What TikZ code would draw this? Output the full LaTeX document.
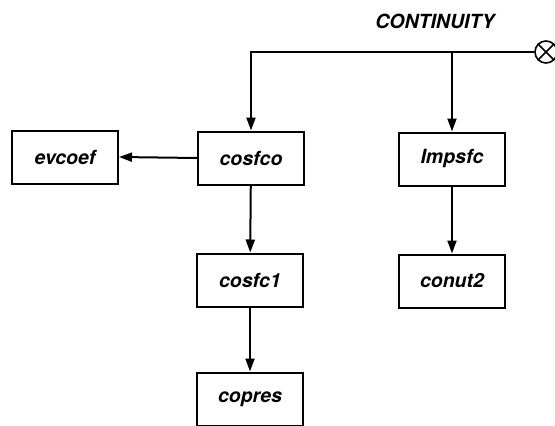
\documentclass[tikz,border=0pt]{standalone}
\usepackage{fontspec}
\setmainfont{TeX Gyre Heros}
\usetikzlibrary{arrows.meta}

\begin{document}
\begin{tikzpicture}[x=1pt, y=-1pt,
    F/.style={font=\fontsize{19.5}{22}\selectfont\bfseries\itshape},
    B/.style={F, draw, line width=2pt, minimum width=106pt,
        minimum height=53pt, inner sep=0pt},
    L/.style={line width=2pt, -{Triangle[length=13pt, width=9pt]}}]
    \useasboundingbox (0,0) rectangle (555,426);
    \node[B] (evcoef) at (65,157) {evcoef};
    \node[B] (cosfco) at (251,158) {cosfco};
    \node[B] (impsfc) at (452,159) {Impsfc};
    \node[B] (cosfc1) at (250,280) {cosfc1};
    \node[B] (conut2) at (452,281) {conut2};
    \node[B] (copres) at (250,399) {copres};
    \node[F] (cont) at (435,21) {CONTINUITY};
    \node[draw, circle, line width=1.6pt, minimum size=22pt,
        inner sep=0pt] (X) at (546,52) {};
    \draw[line width=1.6pt] (X.north west) -- (X.south east)
        (X.north east) -- (X.south west);
    \coordinate (J) at (452,52);
    \draw[L] (X.west) -| (cosfco.north);
    \draw[L] (J) -- (impsfc.north);
    \draw[L] (cosfco.west) -- (evcoef.east);
    \draw[L] (cosfco) -- (cosfc1);
    \draw[L] (cosfc1) -- (copres);
    \draw[L] (impsfc) -- (conut2);
\end{tikzpicture}
\end{document}
